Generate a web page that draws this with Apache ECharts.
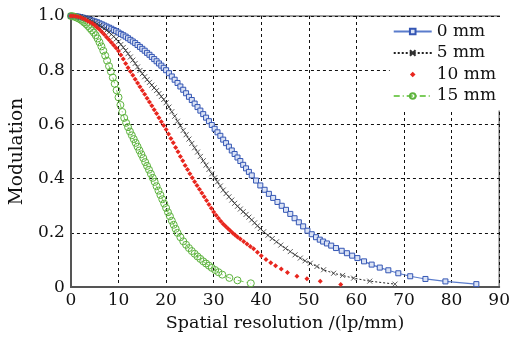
<!DOCTYPE html>
<html><head><meta charset="utf-8">
<script src="https://cdn.jsdelivr.net/npm/echarts@6/dist/echarts.min.js"></script>
<style>html,body{margin:0;padding:0;background:#fff}#c{width:513px;height:337px}</style>
</head><body><div id="c"></div>
<script>
const seriesNames = ['0 mm', '5 mm', '10 mm', '15 mm'];

const data0mm = [
[0,1.000],[0.5,1.000],[1,0.999],[1.5,0.998],[2,0.996],[2.5,0.994],[3,0.991],[3.5,0.989],[4,0.986],[4.5,0.983],
[5,0.980],[5.5,0.977],[6,0.973],[6.5,0.969],[7,0.965],[7.5,0.961],[8,0.957],[8.5,0.953],[9,0.948],[9.5,0.944],
[10,0.939],[10.5,0.934],[11,0.929],[11.5,0.924],[12,0.918],[12.5,0.912],[13,0.906],[13.5,0.900],[14,0.893],[14.5,0.886],
[15,0.879],[15.5,0.872],[16,0.864],[16.5,0.857],[17,0.849],[17.5,0.841],[18,0.833],[18.5,0.825],[19,0.817],[19.5,0.809],
[20,0.800],[20.6,0.789],[21.2,0.777],[21.8,0.765],[22.4,0.753],[23.0,0.740],[23.6,0.728],[24.2,0.715],[24.8,0.702],[25.4,0.690],
[26.0,0.677],[26.6,0.664],[27.2,0.651],[27.8,0.638],[28.4,0.625],[29.0,0.612],[29.6,0.598],[30.2,0.584],[30.8,0.571],[31.4,0.558],
[32.0,0.544],[32.6,0.531],[33.2,0.518],[33.8,0.504],[34.4,0.491],[35.0,0.478],[35.6,0.465],[36.2,0.451],[36.8,0.438],[37.4,0.425],
[38.0,0.412],[38.9,0.393],[39.8,0.375],[40.7,0.359],[41.6,0.344],[42.5,0.329],[43.4,0.314],[44.3,0.300],[45.2,0.285],[46.1,0.270],
[47.0,0.254],[47.9,0.239],[48.8,0.224],[49.7,0.208],[50.6,0.195],[51.5,0.184],[52.3,0.175],[53.0,0.168],[53.8,0.161],[54.7,0.153],
[55.7,0.144],[56.9,0.134],[58.0,0.125],[59.1,0.116],[60.2,0.107],[61.6,0.095],[63.2,0.083],[64.9,0.072],[66.7,0.062],[68.8,0.051],
[71.3,0.040],[74.5,0.030],[78.7,0.021],[85.2,0.011]
];

const data5mm = [
[0,1.000],[0.5,1.000],[1,0.999],[1.5,0.998],[2,0.997],[2.5,0.994],[3,0.992],[3.5,0.989],[4,0.985],[4.5,0.980],
[5,0.975],[5.5,0.970],[6,0.965],[6.5,0.959],[7,0.953],[7.5,0.947],[8,0.940],[8.5,0.932],[9,0.924],[9.5,0.915],
[10,0.905],[10.5,0.895],[11,0.884],[11.5,0.873],[12,0.861],[12.5,0.849],[13,0.837],[13.5,0.825],[14,0.812],[14.5,0.799],
[15,0.787],[15.5,0.776],[16,0.765],[16.5,0.755],[17,0.745],[17.5,0.735],[18,0.725],[18.5,0.714],[19,0.703],[19.5,0.692],
[20,0.680],[20.6,0.664],[21.2,0.647],[21.8,0.630],[22.4,0.612],[23.0,0.595],[23.6,0.578],[24.2,0.562],[24.8,0.546],[25.4,0.530],
[26.0,0.514],[26.6,0.498],[27.2,0.482],[27.8,0.466],[28.4,0.450],[29.0,0.434],[29.6,0.418],[30.2,0.403],[30.8,0.388],[31.4,0.373],
[32.0,0.358],[32.6,0.345],[33.2,0.333],[33.8,0.321],[34.4,0.309],[35.0,0.298],[35.6,0.288],[36.2,0.278],[36.8,0.268],[37.4,0.258],
[38.0,0.248],[38.6,0.237],[39.2,0.226],[39.8,0.216],[40.5,0.204],[41.4,0.191],[42.3,0.179],[43.2,0.167],[44.1,0.155],[45.1,0.143],
[46.1,0.131],[47.1,0.119],[48.2,0.107],[49.2,0.097],[50.3,0.088],[51.7,0.076],[53.1,0.064],[55.2,0.051],[57.1,0.043],[59.4,0.033],
[62.8,0.022],[68.1,0.011]
];

const data10mm = [
[0,1.000],[0.5,1.000],[1,0.999],[1.5,0.997],[2,0.995],[2.5,0.991],[3,0.987],[3.5,0.982],[4,0.977],[4.5,0.972],
[5,0.966],[5.5,0.958],[6,0.950],[6.5,0.941],[7,0.932],[7.5,0.922],[8,0.912],[8.5,0.902],[9,0.892],[9.5,0.882],
[10,0.871],[10.5,0.856],[11,0.841],[11.5,0.825],[12,0.809],[12.5,0.795],[13,0.781],[13.5,0.767],[14,0.753],[14.5,0.739],
[15,0.725],[15.5,0.711],[16,0.697],[16.5,0.683],[17,0.669],[17.5,0.654],[18,0.640],[18.5,0.625],[19,0.610],[19.5,0.596],
[20,0.581],[20.5,0.565],[21,0.548],[21.5,0.532],[22,0.515],[22.5,0.499],[23,0.482],[23.5,0.466],[24,0.449],[24.5,0.434],
[25,0.418],[25.5,0.403],[26,0.389],[26.5,0.375],[27,0.361],[27.5,0.347],[28,0.333],[28.5,0.319],[29,0.305],[29.5,0.291],
[30,0.277],[30.5,0.265],[31,0.254],[31.5,0.243],[32,0.233],[32.5,0.224],[33,0.216],[33.5,0.208],[34,0.200],[34.5,0.192],
[35,0.185],[35.6,0.177],[36.3,0.168],[37.0,0.159],[37.7,0.150],[38.4,0.141],[39.2,0.129],[40.0,0.116],[41.0,0.102],[42.0,0.090],
[43.0,0.079],[44.2,0.067],[45.5,0.054],[47.5,0.040],[49.6,0.031],[52.4,0.022],[56.7,0.010]
];

const data15mm = [
[0,1.000],[0.4,0.999],[0.8,0.997],[1.2,0.994],[1.6,0.991],[2.0,0.987],[2.4,0.982],[2.8,0.976],[3.2,0.970],[3.6,0.963],
[4.0,0.955],[4.4,0.947],[4.8,0.939],[5.2,0.929],[5.6,0.917],[6.0,0.903],[6.4,0.888],[6.8,0.872],[7.2,0.854],[7.6,0.835],
[8.0,0.815],[8.4,0.795],[8.8,0.773],[9.2,0.750],[9.6,0.726],[10.0,0.700],[10.4,0.672],[10.8,0.646],[11.2,0.624],[11.6,0.606],
[12.0,0.590],[12.4,0.574],[12.8,0.560],[13.2,0.546],[13.6,0.532],[14.0,0.518],[14.4,0.504],[14.8,0.490],[15.2,0.476],[15.6,0.461],
[16.0,0.447],[16.4,0.433],[16.8,0.418],[17.2,0.403],[17.6,0.388],[18.0,0.372],[18.4,0.356],[18.8,0.340],[19.2,0.324],[19.6,0.308],
[20.0,0.292],[20.4,0.276],[20.8,0.261],[21.2,0.245],[21.6,0.230],[22.0,0.215],[22.4,0.200],[23.0,0.184],[23.6,0.169],[24.2,0.156],
[24.8,0.144],[25.4,0.133],[26.0,0.123],[26.6,0.113],[27.2,0.104],[27.8,0.095],[28.4,0.087],[29.0,0.079],[29.6,0.071],[30.3,0.063],
[31.0,0.055],[31.8,0.046],[33.3,0.034],[35.0,0.025],[37.8,0.014]
];

const xTickLabels = ['0','10','20','30','40','50','60','70','80','90'];
const yTickLabels = ['0','0.2','0.4','0.6','0.8','1.0'];
const xAxisName = 'Spatial resolution /(lp/mm)';
const yAxisName = 'Modulation';

const FONT = 'DejaVu Serif';
const chart = echarts.init(document.getElementById('c'), null, {renderer: 'canvas'});

const gridLine = {show: true, lineStyle: {color: '#111', type: [3, 3], width: 1}};

const option = {
  backgroundColor: '#fff',
  animation: false,
  grid: {left: 69, right: 13, top: 16, bottom: 44, show: true, borderColor: '#808080', borderWidth: 1.5, containLabel: false},
  legend: {
    data: seriesNames,
    orient: 'vertical', right: 13, top: 17,
    backgroundColor: '#fff',
    padding: [6, 4, 6, 3],
    itemWidth: 38, itemHeight: 7, itemGap: 4.5,
    textStyle: {fontFamily: FONT, fontSize: 17, color: '#111', lineHeight: 17}
  },
  xAxis: {
    type: 'value', min: 0, max: 90, interval: 10,
    name: xAxisName, nameLocation: 'middle', nameGap: 23,
    nameTextStyle: {fontFamily: FONT, fontSize: 17.5, color: '#111'},
    axisLine: {show: true, lineStyle: {color: '#555', width: 2}},
    axisTick: {show: false},
    axisLabel: {margin: 5, fontFamily: FONT, fontSize: 17, color: '#111',
      formatter: v => xTickLabels[Math.round(v / 10)]},
    splitLine: gridLine
  },
  yAxis: {
    type: 'value', min: 0, max: 1, interval: 0.2,
    name: yAxisName, nameLocation: 'middle', nameGap: 33,
    nameTextStyle: {fontFamily: FONT, fontSize: 18.5, color: '#111'},
    axisLine: {show: true, lineStyle: {color: '#555', width: 2}},
    axisTick: {show: false},
    axisLabel: {margin: 6, fontFamily: FONT, fontSize: 17, color: '#111',
      formatter: v => yTickLabels[Math.round(v / 0.2)]},
    splitLine: gridLine
  },
  series: [
    {
      name: seriesNames[0], type: 'line', data: data0mm, showAllSymbol: true,
      symbol: 'rect', symbolSize: 5,
      lineStyle: {color: '#5a7ccc', width: 1.2},
      itemStyle: {color: '#dbe3f5', borderColor: '#3456b4', borderWidth: 1},
      z: 3
    },
    {
      name: seriesNames[1], type: 'line', data: data5mm, showAllSymbol: true,
      symbol: 'path://M0,0L10,10M10,0L0,10', symbolSize: 5,
      lineStyle: {color: '#222', width: 1, type: [2, 2]},
      itemStyle: {color: 'rgba(0,0,0,0)', borderColor: '#333', borderWidth: 0.8},
      z: 3
    },
    {
      name: seriesNames[2], type: 'line', data: data10mm, showAllSymbol: true,
      symbol: 'diamond', symbolSize: 5,
      lineStyle: {color: '#e8261e', width: 0, opacity: 0},
      itemStyle: {color: '#e8261e', borderWidth: 0},
      z: 5
    },
    {
      name: seriesNames[3], type: 'line', data: data15mm, showAllSymbol: true,
      symbol: 'circle', symbolSize: 7,
      lineStyle: {color: '#7ccc5c', width: 1, type: [6, 3, 1, 3]},
      itemStyle: {color: 'rgba(255,255,255,0)', borderColor: '#5db33e', borderWidth: 1},
      z: 4
    }
  ]
};
chart.setOption(option);
</script>
</body></html>
